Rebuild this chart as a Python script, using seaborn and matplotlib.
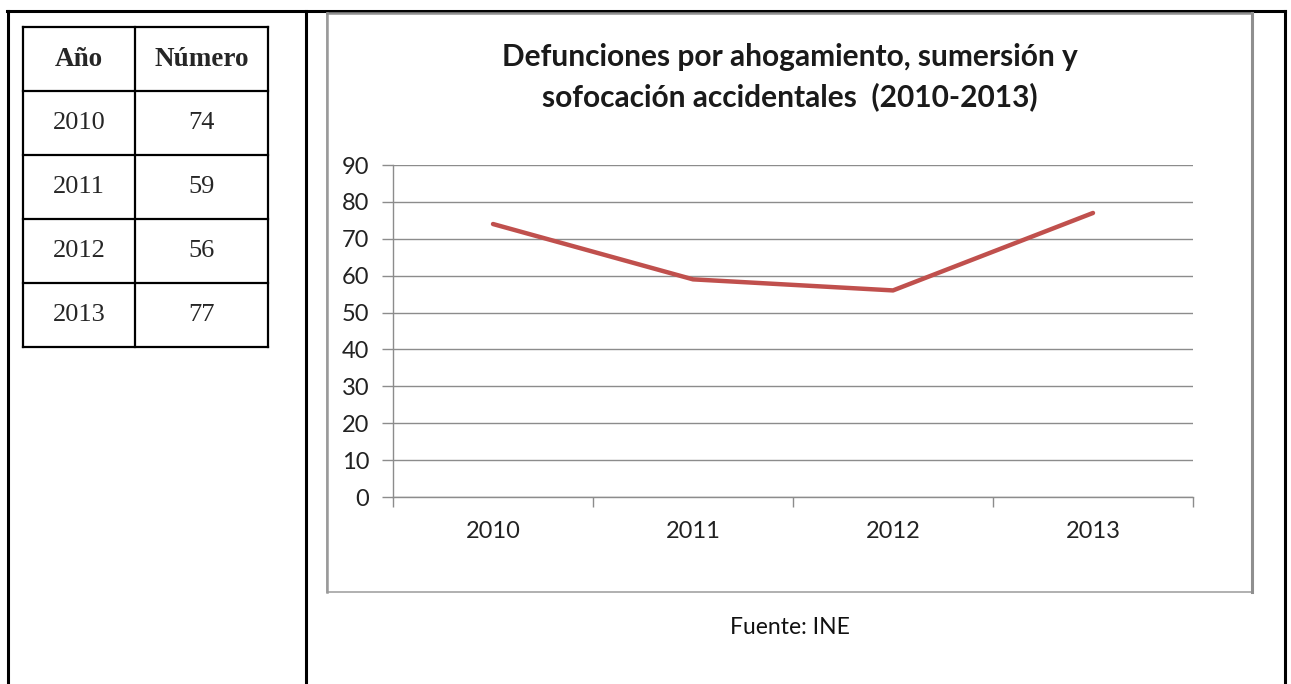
import matplotlib
matplotlib.use("Agg")
import matplotlib.pyplot as plt
import seaborn as sns
import pandas as pd
from matplotlib.lines import Line2D
from matplotlib.patches import Rectangle
from matplotlib.ticker import FixedLocator

# data
years = ["2010", "2011", "2012", "2013"]
deaths = [74, 59, 56, 77]
table_header = ["Año", "Número"]
title = "Defunciones por ahogamiento, sumersión y\nsofocación accidentales  (2010-2013)"
source = "Fuente: INE"

df = pd.DataFrame({"year": years, "deaths": deaths})

sns.set_style("white")
plt.rcParams["font.family"] = ["Lato", "DejaVu Sans"]

W, H = 1291, 684
fig = plt.figure(figsize=(W / 100, H / 100), dpi=100)


def fx(px):
    return px / W


def fy(py):
    return 1 - py / H


def hline(x0, x1, y, lw=2.0, color="black"):
    fig.add_artist(Line2D([fx(x0), fx(x1)], [fy(y), fy(y)], lw=lw, color=color,
                          transform=fig.transFigure, solid_capstyle="projecting"))


def vline(x, y0, y1, lw=2.0, color="black"):
    fig.add_artist(Line2D([fx(x), fx(x)], [fy(y0), fy(y1)], lw=lw, color=color,
                          transform=fig.transFigure, solid_capstyle="projecting"))


# outer document table
hline(7, 1285, 11, lw=2.2)
vline(8, 11, 684, lw=2.2)
vline(306, 11, 684, lw=2.2)
vline(1285, 11, 684, lw=2.2)

# left data table
tx0, tx1, tx2 = 23, 135, 268
row_y = [27, 91, 155, 219, 283, 347]
for y in row_y:
    hline(tx0, tx2, y, lw=1.6)
for x in (tx0, tx1, tx2):
    vline(x, row_y[0], row_y[-1], lw=1.6)
serif = ["Liberation Serif", "DejaVu Serif"]
fig.text(fx((tx0 + tx1) / 2), fy((row_y[0] + row_y[1]) / 2), table_header[0],
         ha="center", va="center", fontsize=19.5, weight="bold", family=serif)
fig.text(fx((tx1 + tx2) / 2), fy((row_y[0] + row_y[1]) / 2), table_header[1],
         ha="center", va="center", fontsize=19.5, weight="bold", family=serif)
for i, (yr, n) in enumerate(zip(years, deaths)):
    yc = (row_y[i + 1] + row_y[i + 2]) / 2
    fig.text(fx((tx0 + tx1) / 2), fy(yc), yr, ha="center", va="center",
             fontsize=19, family=serif)
    fig.text(fx((tx1 + tx2) / 2), fy(yc), str(n), ha="center", va="center",
             fontsize=19, family=serif)

# chart frame (with darker shadow on the right edge)
fig.add_artist(Rectangle((fx(327), fy(592)), fx(1252) - fx(327), fy(13) - fy(592),
                         transform=fig.transFigure, fill=False,
                         edgecolor="#b0b0b0", lw=1.4))
vline(1252, 13, 592, lw=2.2, color="#8f8f8f")
vline(327, 13, 592, lw=1.8, color="#9a9a9a")
hline(327, 1252, 13, lw=1.8, color="#8f8f8f")

# line chart
ax = fig.add_axes([fx(393), fy(497), fx(1193) - fx(393), fy(165) - fy(497)])
sns.lineplot(data=df, x="year", y="deaths", ax=ax, color="#C0504D", lw=3.2, sort=False)
ax.set_xlim(-0.5, 3.5)
ax.set_ylim(0, 90)
ax.set_yticks(range(0, 91, 10))
ax.set_xticks(range(len(years)))
ax.set_xticklabels(years)
ax.xaxis.set_minor_locator(FixedLocator([i - 0.5 for i in range(len(years) + 1)]))
ax.set_xlabel("")
ax.set_ylabel("")
ax.grid(axis="y", color="#8c8c8c", lw=1.0)
ax.set_axisbelow(True)
for s in ("top", "right"):
    ax.spines[s].set_visible(False)
for s in ("left", "bottom"):
    ax.spines[s].set_color("#8c8c8c")
    ax.spines[s].set_linewidth(1.0)
ax.tick_params(axis="y", which="major", length=8, width=1.0, color="#8c8c8c",
               labelsize=17, labelcolor="#222222", pad=9, left=True)
ax.tick_params(axis="x", which="major", length=0, labelsize=17,
               labelcolor="#222222", pad=17)
ax.tick_params(axis="x", which="minor", length=7, width=1.0, color="#8c8c8c",
               bottom=True)

fig.text(fx(790), fy(77), title, ha="center", va="center", fontsize=21.5,
         weight="bold", color="#1a1a1a", linespacing=1.5)
fig.text(fx(790), fy(628), source, ha="center", va="center", fontsize=16.5,
         color="#111111")

fig.savefig("out.png", dpi=100)
